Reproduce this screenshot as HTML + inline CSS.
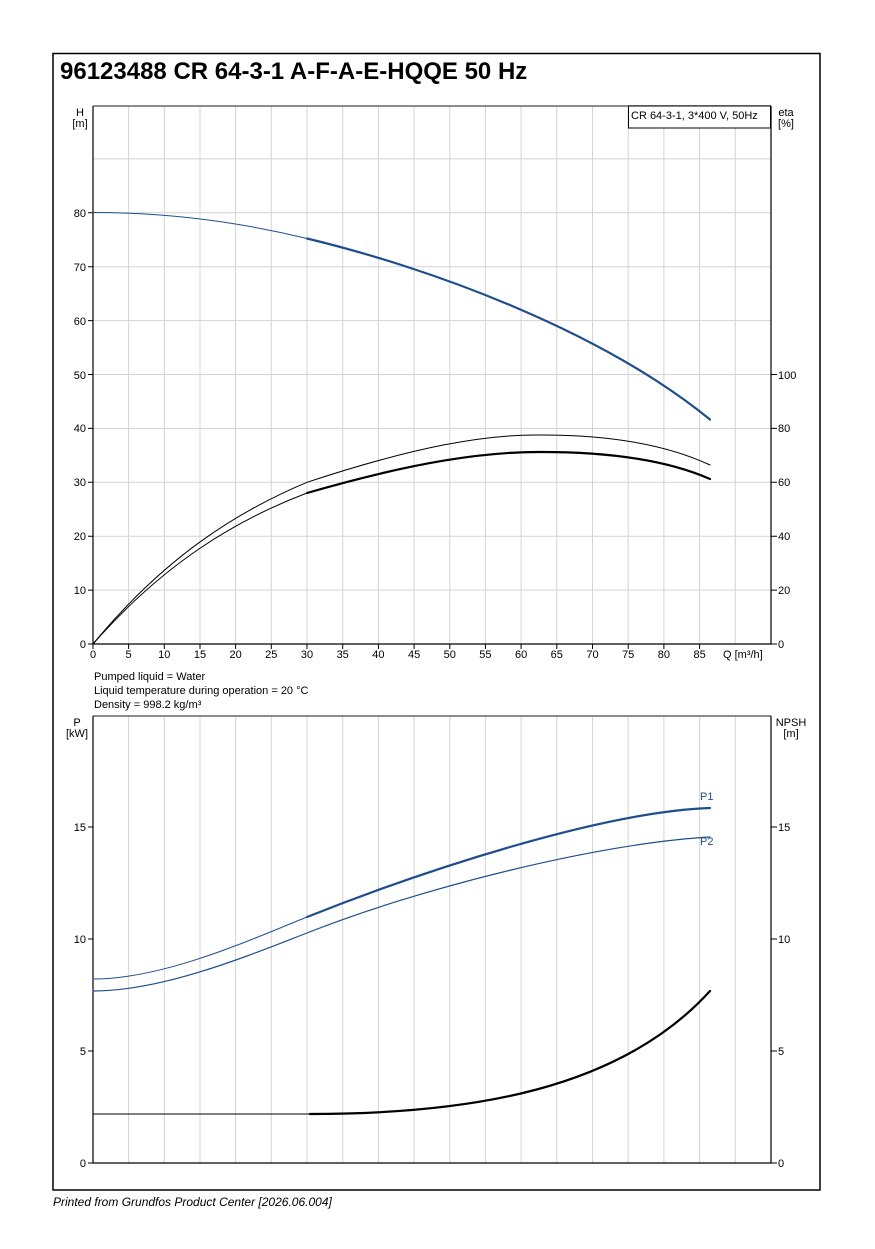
<!DOCTYPE html>
<html><head><meta charset="utf-8"><style>
html,body{margin:0;padding:0;background:#fff;}
svg{display:block;font-family:"Liberation Sans",Arial,sans-serif;}
</style></head><body>
<svg width="875" height="1249" viewBox="0 0 875 1249" xmlns="http://www.w3.org/2000/svg">
<rect x="53" y="53.5" width="767" height="1136.5" fill="none" stroke="#000" stroke-width="1.5"/>
<text x="60" y="79" font-size="24" font-weight="bold">96123488 CR 64-3-1 A-F-A-E-HQQE 50 Hz</text>
<g stroke="#d4d4d4" stroke-width="1">
<path d="M128.6 106V644M164.3 106V644M200 106V644M235.6 106V644M271.3 106V644M307 106V644M342.7 106V644M378.4 106V644M414.1 106V644M449.8 106V644M485.4 106V644M521.1 106V644M556.8 106V644M592.5 106V644M628.2 106V644M663.9 106V644M699.6 106V644M735.3 106V644"/>
<path d="M93 590.1H771M93 536.2H771M93 482.3H771M93 428.4H771M93 374.5H771M93 320.6H771M93 266.7H771M93 212.8H771M93 158.9H771"/>
<path d="M128.6 716V1163M164.3 716V1163M200 716V1163M235.6 716V1163M271.3 716V1163M307 716V1163M342.7 716V1163M378.4 716V1163M414.1 716V1163M449.8 716V1163M485.4 716V1163M521.1 716V1163M556.8 716V1163M592.5 716V1163M628.2 716V1163M663.9 716V1163M699.6 716V1163M735.3 716V1163"/>
</g>
<path d="M93 106H771M93 716H771" stroke="#666" stroke-width="1.5"/>
<path d="M93 106V644H771V106M93 716V1163H771V716" stroke="#000" stroke-width="1.2" fill="none"/>
<g stroke="#000" stroke-width="1">
<path d="M88 644H93M88 590.1H93M88 536.2H93M88 482.3H93M88 428.4H93M88 374.5H93M88 320.6H93M88 266.7H93M88 212.8H93"/>
<path d="M771 644H777M771 590.1H777M771 536.2H777M771 482.3H777M771 428.4H777M771 374.5H777"/>
<path d="M93 644V649M128.6 644V649M164.3 644V649M200 644V649M235.6 644V649M271.3 644V649M307 644V649M342.7 644V649M378.4 644V649M414.1 644V649M449.8 644V649M485.4 644V649M521.1 644V649M556.8 644V649M592.5 644V649M628.2 644V649M663.9 644V649M699.6 644V649"/>
<path d="M88 1163H93M88 1051H93M88 939H93M88 827H93M771 1163H777M771 1051H777M771 939H777M771 827H777"/>
</g>
<g font-size="11" text-anchor="end">
<text x="86" y="648">0</text><text x="86" y="594">10</text><text x="86" y="540">20</text><text x="86" y="486">30</text><text x="86" y="432">40</text><text x="86" y="379">50</text><text x="86" y="325">60</text><text x="86" y="271">70</text><text x="86" y="217">80</text>
<text x="86" y="1167">0</text><text x="86" y="1055">5</text><text x="86" y="943">10</text><text x="86" y="831">15</text>
</g>
<g font-size="11">
<text x="778" y="648">0</text><text x="778" y="594">20</text><text x="778" y="540">40</text><text x="778" y="486">60</text><text x="778" y="432">80</text><text x="778" y="379">100</text>
<text x="778" y="1167">0</text><text x="778" y="1055">5</text><text x="778" y="943">10</text><text x="778" y="831">15</text>
</g>
<g font-size="11" text-anchor="middle">
<text x="93" y="658">0</text><text x="128.6" y="658">5</text><text x="164.3" y="658">10</text><text x="200" y="658">15</text><text x="235.6" y="658">20</text><text x="271.3" y="658">25</text><text x="307" y="658">30</text><text x="342.7" y="658">35</text><text x="378.4" y="658">40</text><text x="414.1" y="658">45</text><text x="449.8" y="658">50</text><text x="485.4" y="658">55</text><text x="521.1" y="658">60</text><text x="556.8" y="658">65</text><text x="592.5" y="658">70</text><text x="628.2" y="658">75</text><text x="663.9" y="658">80</text><text x="699.6" y="658">85</text>
<text x="80" y="116">H</text><text x="80" y="127">[m]</text>
<text x="786" y="116">eta</text><text x="786" y="127">[%]</text>
<text x="77" y="726">P</text><text x="77" y="737">[kW]</text>
<text x="791" y="726">NPSH</text><text x="791" y="737">[m]</text>
</g>
<text x="723" y="658" font-size="11">Q [m³/h]</text>
<g font-size="11"><text x="94" y="680">Pumped liquid = Water</text><text x="94" y="694">Liquid temperature during operation = 20 °C</text><text x="94" y="708">Density = 998.2 kg/m³</text></g>
<rect x="628.5" y="106" width="142" height="22" fill="#fff" stroke="#000" stroke-width="1"/>
<text x="631" y="119" font-size="11">CR 64-3-1, 3*400 V, 50Hz</text>
<g fill="none" stroke-linecap="round">
<path d="M93 212.5Q200 212.5 307 238.5" stroke="#1f4e8c" stroke-width="1"/>
<path d="M307 238.5C430 268 600 330 710 419.5" stroke="#1f4e8c" stroke-width="2.2"/>
<path d="M93 644C164 557.8 236 512 307 482.3C414 447 485 434 542 435C628 435 678 450 710 465" stroke="#000" stroke-width="1"/>
<path d="M93 644C164 563 236 520 307 493" stroke="#000" stroke-width="1"/>
<path d="M307 493C414 462 485 451.6 542 452C628 452 678 465 710 479" stroke="#000" stroke-width="2.2"/>
<path d="M93 979C164 979 250 940 307 917" stroke="#1f4e8c" stroke-width="1"/>
<path d="M307 917C420 872 600 812 710 808" stroke="#1f4e8c" stroke-width="2.2"/>
<path d="M93 991C164 991 250 955 307 933C420 888 600 843 710 837" stroke="#1f4e8c" stroke-width="1.2"/>
<path d="M93 1114H310" stroke="#000" stroke-width="1"/>
<path d="M310 1114C470 1114 620 1090 710 991" stroke="#000" stroke-width="2.2"/>
</g>
<text x="700" y="800" font-size="11" fill="#1f4e8c">P1</text>
<text x="700" y="845" font-size="11" fill="#1f4e8c">P2</text>
<text x="53" y="1206" font-size="12" font-style="italic">Printed from Grundfos Product Center [2026.06.004]</text>
</svg>
</body></html>
